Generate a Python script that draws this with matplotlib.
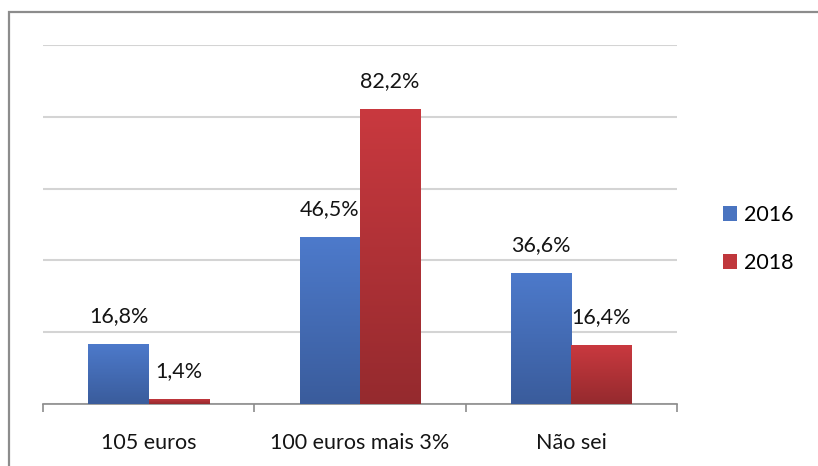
import numpy as np
import matplotlib.pyplot as plt
from matplotlib.colors import LinearSegmentedColormap
from matplotlib.patches import Rectangle

# --- data ---
categories = ["105 euros", "100 euros mais 3%", "Não sei"]
years = ["2016", "2018"]
values_2016 = [16.8, 46.5, 36.6]
values_2018 = [1.4, 82.2, 16.4]

plt.rcParams['font.family'] = ['Lato', 'DejaVu Sans']

fig = plt.figure(figsize=(8.18, 4.66), dpi=100)
ax = fig.add_axes([43 / 818, 1 - 404 / 466, 634 / 818, 359 / 466])

# outer frame like the original chart box
fig.patches.append(Rectangle((9 / 818, -0.1), 1.1, 1 - 12 / 466 + 0.1,
                             transform=fig.transFigure, fill=False,
                             edgecolor='#8c8c8c', linewidth=1.6))

x = np.arange(len(categories))
w = 0.285
series = [
    (values_2016, -w / 2, ('#4d7acb', '#3a5c9c'), '#4a74c0'),
    (values_2018, w / 2, ('#c9393f', '#952a2e'), '#c0373c'),
]

handles = []
for vals, off, (top_c, bot_c), solid in series:
    cmap = LinearSegmentedColormap.from_list('g', [bot_c, top_c])
    bars = ax.bar(x + off, vals, w, color='none', edgecolor='none', zorder=3)
    for b, v in zip(bars, vals):
        grad = np.linspace(0, 1, 100).reshape(-1, 1)
        im = ax.imshow(grad, cmap=cmap, origin='lower', aspect='auto',
                       extent=(b.get_x(), b.get_x() + b.get_width(), 0, v),
                       zorder=3)
        im.set_clip_path(b)
        ax.text(b.get_x() + b.get_width() / 2, v + 5.0, f"{v:.1f}%".replace('.', ','),
                ha='center', va='bottom', fontsize=15.5, color='#141414', zorder=4)
    handles.append(Rectangle((0, 0), 1, 1, facecolor=solid))

ax.set_xlim(-0.5, len(categories) - 0.5)
ax.set_ylim(0, 100)

# gridlines
ax.set_yticks(np.arange(0, 101, 20))
ax.yaxis.grid(True, color='#d4d4d4', linewidth=1.5)
ax.set_axisbelow(True)
ax.tick_params(axis='y', left=False, labelleft=False)

# category labels centered, ticks at boundaries
ax.set_xticks(x)
ax.set_xticklabels(categories, fontsize=15.5, color='#141414')
ax.tick_params(axis='x', length=0, pad=21)
ax.set_xticks(np.arange(-0.5, len(categories)), minor=True)
ax.tick_params(axis='x', which='minor', length=6, width=1.2, color='#8c8c8c')

for s in ['top', 'right', 'left']:
    ax.spines[s].set_visible(False)
ax.spines['bottom'].set_color('#8c8c8c')
ax.spines['bottom'].set_linewidth(1.2)

fig.legend(handles, years, loc='center left', bbox_to_anchor=(714 / 818, 1 - 239 / 466),
           frameon=False, fontsize=15.5, handlelength=0.65, handleheight=0.65,
           handletextpad=0.35, labelspacing=1.3, borderaxespad=0)

fig.savefig('out.png', dpi=100)
